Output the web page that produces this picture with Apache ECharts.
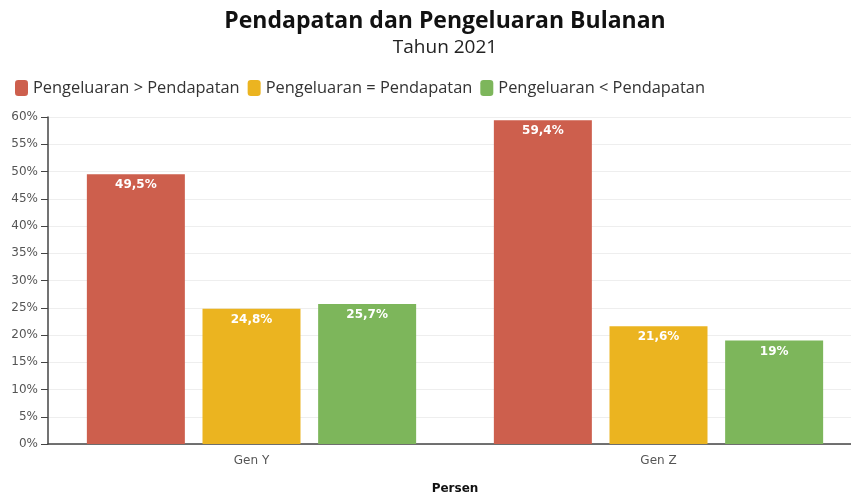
<!DOCTYPE html>
<html><head><meta charset="utf-8">
<script src="https://cdn.jsdelivr.net/npm/echarts@6/dist/echarts.min.js"></script>
<style>html,body{margin:0;padding:0;background:#fff}#c{width:851px;height:493px}</style>
</head><body><div id="c"></div>
<script>
const categories = ['Gen Y', 'Gen Z'];
const seriesNames = ['Pengeluaran > Pendapatan', 'Pengeluaran = Pendapatan', 'Pengeluaran < Pendapatan'];
const lebih = [49.5, 59.4];
const sama = [24.8, 21.6];
const kurang = [25.7, 19];
const colors = ['#CD5F4D', '#EBB420', '#7DB65B'];
const yTicks = [0, 5, 10, 15, 20, 25, 30, 35, 40, 45, 50, 55, 60];

const fmt = v => String(v).replace('.', ',') + '%';
const chart = echarts.init(document.getElementById('c'));
const mk = (name, data, i) => ({
  name, type: 'bar', data, barWidth: 98, barGap: '18%',
  itemStyle: { color: colors[i] },
  label: { show: true, position: 'insideTop', distance: 5, color: '#fff', fontWeight: 'bold',
    fontFamily: 'DejaVu Sans', fontSize: 12, formatter: p => fmt(p.value) }
});
chart.setOption({
  animation: false,
  title: [
    { text: 'Pendapatan dan Pengeluaran Bulanan', left: 440, textAlign: 'center', top: 5,
      textStyle: { fontFamily: 'Open Sans', fontWeight: 'bold', fontSize: 23, color: '#111' } },
    { text: 'Tahun 2021', left: 440, textAlign: 'center', top: 33,
      textStyle: { fontFamily: 'Open Sans', fontWeight: 'normal', fontSize: 19, color: '#222' } }
  ],
  legend: { left: 10, top: 75, itemWidth: 13, itemHeight: 16, itemGap: 8, icon: 'roundRect',
    textStyle: { fontFamily: 'Open Sans', fontSize: 16.4, color: '#333' }, data: seriesNames },
  grid: { left: 48, width: 814, top: 117, height: 327, containLabel: false, outerBoundsMode: 'none' },
  xAxis: { type: 'category', data: categories,
    name: 'Persen', nameLocation: 'middle', nameGap: 39,
    nameTextStyle: { fontFamily: 'DejaVu Sans', fontWeight: 'bold', fontSize: 12, color: '#111' },
    axisLine: { lineStyle: { color: '#444', width: 1.5 } },
    axisTick: { alignWithLabel: true, lineStyle: { color: '#444' }, length: 5 },
    axisLabel: { fontFamily: 'DejaVu Sans', fontSize: 12, color: '#555', margin: 11 } },
  yAxis: { type: 'value', min: yTicks[0], max: yTicks[yTicks.length - 1], interval: 5,
    axisLine: { show: true, lineStyle: { color: '#444', width: 1.5 } },
    axisTick: { show: true, lineStyle: { color: '#444' }, length: 7 },
    axisLabel: { fontFamily: 'DejaVu Sans', fontSize: 12, color: '#555', margin: 10, formatter: v => v + '%' },
    splitLine: { lineStyle: { color: '#eeeeee' } } },
  series: [mk(seriesNames[0], lebih, 0), mk(seriesNames[1], sama, 1), mk(seriesNames[2], kurang, 2)]
});
</script></body></html>
